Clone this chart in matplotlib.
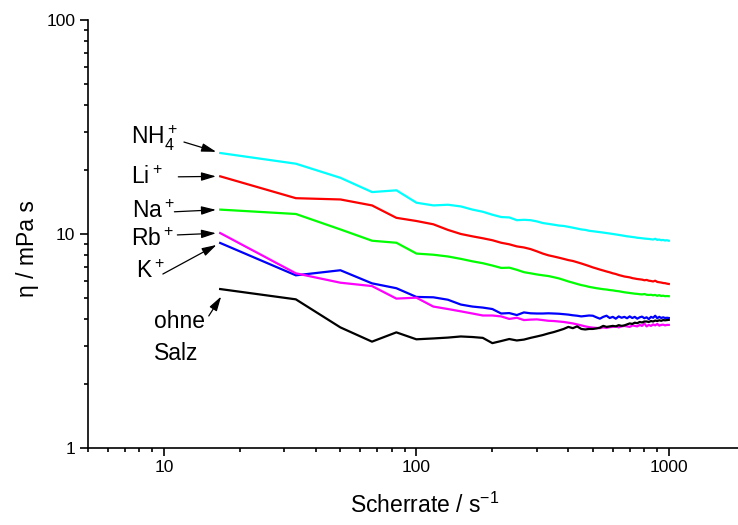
import matplotlib
matplotlib.use("Agg")
import matplotlib.pyplot as plt
from matplotlib.ticker import LogLocator, NullFormatter

plt.rcParams["font.family"] = ["Liberation Sans", "DejaVu Sans"]
plt.rcParams["mathtext.default"] = "regular"

# Scherrate (1/s)
shear_rate = [16.7, 33.3, 50, 66.7, 83.3, 100, 116.7, 133.3, 150, 166.7,
              183.3, 200, 216.7, 233.3, 250, 266.7, 283.3, 300, 316.7, 333.3,
              350, 366.7, 383.3, 400, 416.7, 433.3, 450, 466.7, 483.3, 500,
              516.7, 533.3, 550, 566.7, 583.3, 600, 616.7, 633.3, 650, 666.7,
              683.3, 700, 716.7, 733.3, 750, 766.7, 783.3, 800, 816.7, 833.3,
              850, 866.7, 883.3, 900, 916.7, 933.3, 950, 966.7, 983.3, 1000]

# viscosity (mPa s) per salt
eta_nh4 = [23.9, 21.3, 18.3, 15.7, 16.0, 14.0, 13.6, 13.7, 13.45, 13.0,
           12.7, 12.3, 12.0, 11.95, 11.6, 11.65, 11.6, 11.45, 11.25, 11.15,
           11.05, 10.95, 10.9, 10.8, 10.7, 10.6, 10.5, 10.45, 10.35, 10.3,
           10.25, 10.2, 10.15, 10.1, 10.05, 10.0, 9.95, 9.9, 9.85, 9.8,
           9.75, 9.72, 9.68, 9.65, 9.6, 9.58, 9.55, 9.52, 9.5, 9.48,
           9.45, 9.42, 9.5, 9.38, 9.42, 9.35, 9.38, 9.32, 9.35, 9.3]
eta_li = [18.6, 14.7, 14.5, 13.6, 11.9, 11.5, 11.1, 10.45, 10.0, 9.75,
          9.55, 9.35, 9.1, 8.95, 8.75, 8.65, 8.5, 8.3, 8.1, 7.95,
          7.85, 7.75, 7.65, 7.55, 7.48, 7.38, 7.28, 7.18, 7.08, 6.98,
          6.9, 6.82, 6.75, 6.68, 6.62, 6.55, 6.5, 6.43, 6.38, 6.33,
          6.3, 6.27, 6.22, 6.19, 6.16, 6.14, 6.12, 6.08, 6.1, 6.05,
          6.03, 6.0, 6.05, 5.97, 5.95, 5.93, 5.9, 5.89, 5.86, 5.84]
eta_na = [13.0, 12.4, 10.5, 9.3, 9.1, 8.1, 8.0, 7.85, 7.65, 7.45,
          7.3, 7.12, 6.94, 6.96, 6.8, 6.63, 6.55, 6.47, 6.41, 6.36,
          6.28, 6.2, 6.1, 6.0, 5.92, 5.84, 5.77, 5.72, 5.66, 5.62,
          5.58, 5.55, 5.52, 5.5, 5.47, 5.45, 5.42, 5.4, 5.37, 5.34,
          5.32, 5.3, 5.28, 5.26, 5.25, 5.23, 5.22, 5.24, 5.2, 5.19,
          5.2, 5.17, 5.19, 5.14, 5.18, 5.13, 5.15, 5.12, 5.13, 5.12]
eta_k = [9.08, 6.41, 6.77, 5.88, 5.58, 5.08, 5.06, 4.93, 4.68, 4.58,
         4.53, 4.46, 4.25, 4.27, 4.18, 4.3, 4.26, 4.25, 4.25, 4.26,
         4.25, 4.24, 4.22, 4.2, 4.17, 4.15, 4.12, 4.14, 4.16, 4.15,
         4.08, 4.02, 4.1, 4.15, 4.05, 4.1, 4.02, 4.12, 4.06, 4.1,
         4.04, 4.12, 4.05, 4.1, 4.02, 4.08, 4.11, 4.04, 4.08, 4.0,
         4.1, 4.06, 4.15, 4.04, 4.1, 4.05, 4.08, 4.05, 4.06, 4.05]
eta_rb = [10.1, 6.55, 5.92, 5.71, 4.99, 5.04, 4.58, 4.46, 4.35, 4.25,
          4.16, 4.16, 4.12, 4.01, 4.06, 3.96, 3.98, 3.99, 3.96, 3.93,
          3.92, 3.9, 3.88, 3.85, 3.82, 3.78, 3.74, 3.7, 3.67, 3.65,
          3.64, 3.63, 3.66, 3.64, 3.67, 3.68, 3.7, 3.66, 3.7, 3.72,
          3.7, 3.68, 3.74, 3.72, 3.7, 3.76, 3.72, 3.82, 3.7, 3.76,
          3.72, 3.78, 3.74, 3.8, 3.73, 3.76, 3.77, 3.74, 3.76, 3.76]
eta_none = [5.53, 4.95, 3.66, 3.14, 3.47, 3.22, 3.25, 3.28, 3.32, 3.3,
            3.27, 3.09, 3.16, 3.23, 3.18, 3.21, 3.27, 3.32, 3.37, 3.43,
            3.48, 3.54, 3.6, 3.68, 3.63, 3.7, 3.6, 3.58, 3.6, 3.6,
            3.62, 3.65, 3.72, 3.68, 3.7, 3.72, 3.7, 3.75, 3.72, 3.74,
            3.78, 3.82, 3.8, 3.85, 3.83, 3.88, 3.86, 3.9, 3.9, 3.88,
            3.92, 3.9, 3.94, 3.92, 3.95, 3.93, 3.96, 3.95, 3.96, 3.97]

fig = plt.figure(figsize=(7.38, 5.25), dpi=100)
ax = fig.add_axes([0.1192, 0.1467, 0.8808, 0.8152])

ax.plot(shear_rate, eta_nh4, color="#00FFFF", lw=1.6)
ax.plot(shear_rate, eta_li, color="#FF0000", lw=1.6)
ax.plot(shear_rate, eta_na, color="#00FF00", lw=1.6)
ax.plot(shear_rate, eta_k, color="#0000FF", lw=1.6)
ax.plot(shear_rate, eta_rb, color="#FF00FF", lw=1.6)
ax.plot(shear_rate, eta_none, color="black", lw=1.6)

ax.set_xscale("log")
ax.set_yscale("log")
ax.set_xlim(5, 1880)
ax.set_ylim(1, 100)

# only left and bottom axis lines
ax.spines["top"].set_visible(False)
ax.spines["right"].set_visible(False)
ax.spines["left"].set_linewidth(1.2)
ax.spines["bottom"].set_linewidth(1.2)

ax.xaxis.set_minor_locator(LogLocator(base=10, subs=range(2, 10)))
ax.yaxis.set_minor_locator(LogLocator(base=10, subs=range(2, 10)))
ax.xaxis.set_minor_formatter(NullFormatter())
ax.yaxis.set_minor_formatter(NullFormatter())
ax.set_xticks([10, 100, 1000])
ax.set_xticklabels(["10", "100", "1000"])
ax.set_yticks([1, 10, 100])
ax.set_yticklabels(["1", "10", "100"])
ax.tick_params(which="major", direction="out", length=6, width=1.2, labelsize=12.5, pad=3)
ax.tick_params(which="minor", direction="out", length=3, width=1.2)

ax.set_xlabel("Scherrate / s$^{-1}$", fontsize=16.5)
ax.set_ylabel("\u03b7 / mPa s", fontsize=16.5)
ax.xaxis.set_label_coords(0.518, -0.105)
ax.yaxis.set_label_coords(-0.075, 0.467)

# labels and arrows pointing to the start of each curve
arrow = dict(arrowstyle="-|>,head_length=0.55,head_width=0.16", color="black",
             lw=0.9, mutation_scale=16, shrinkA=0, shrinkB=3)
ax.text(7.4, 28.0, "NH$_4^+$", fontsize=16.5, va="center")
ax.annotate("", xy=(shear_rate[0], eta_nh4[0]), xytext=(12.0, 26.9), arrowprops=arrow)
ax.text(7.4, 18.4, "Li$^+$", fontsize=16.5, va="center")
ax.annotate("", xy=(shear_rate[0], eta_li[0]), xytext=(11.4, 18.5), arrowprops=arrow)
ax.text(7.5, 12.7, "Na$^+$", fontsize=16.5, va="center")
ax.annotate("", xy=(shear_rate[0], eta_na[0]), xytext=(11.0, 12.7), arrowprops=arrow)
ax.text(7.4, 9.4, "Rb$^+$", fontsize=16.5, va="center")
ax.annotate("", xy=(shear_rate[0], eta_rb[0]), xytext=(11.3, 9.9), arrowprops=arrow)
ax.text(7.75, 6.65, "K$^+$", fontsize=16.5, va="center")
ax.annotate("", xy=(shear_rate[0], eta_k[0]), xytext=(9.9, 6.5), arrowprops=arrow)
ax.text(9.1, 3.28, "ohne\nSalz", fontsize=16.5, va="center", linespacing=1.5)
ax.annotate("", xy=(17.2, 5.3), xytext=(15.05, 4.14), arrowprops=arrow)

fig.savefig("out.png", dpi=100)
